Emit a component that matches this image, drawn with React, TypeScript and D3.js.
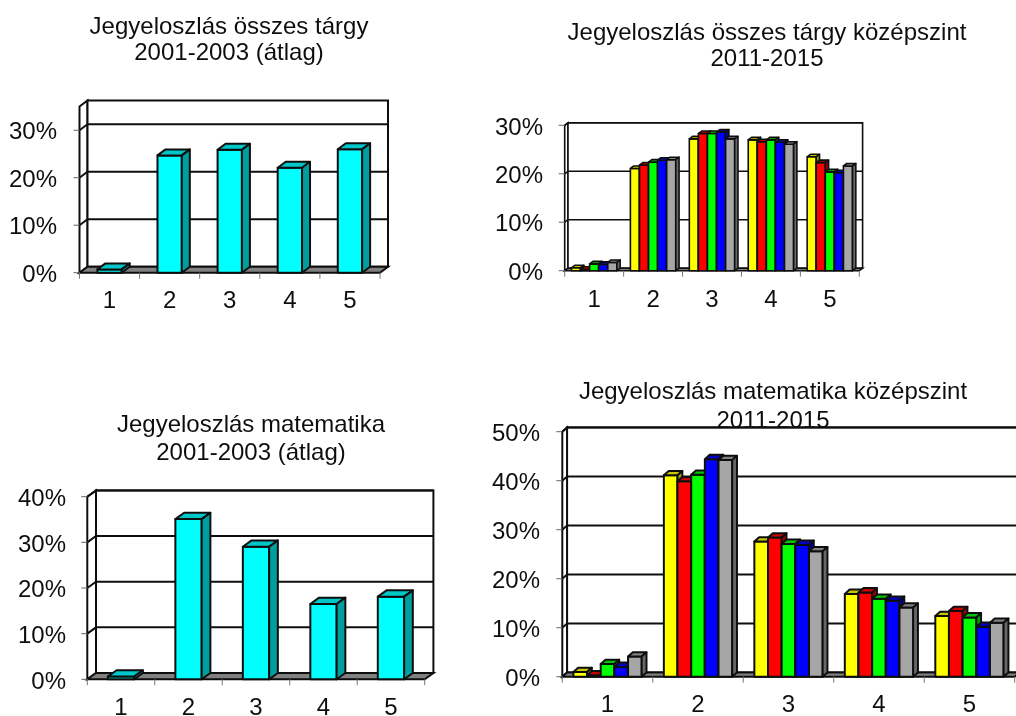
import React from "react";
import * as d3 from "d3";

const categories = ["1", "2", "3", "4", "5"];

const allSubjects2001 = [0.7, 24.7, 25.9, 22.1, 26.0];
const math2001 = [0.6, 35.1, 29.05, 16.5, 18.1];

const allSubjects2011 = [0.6, 21.1, 27.2, 27.0, 23.5];
const allSubjects2012 = [0.3, 21.8, 28.3, 26.6, 22.3];
const allSubjects2013 = [1.4, 22.4, 28.3, 27.0, 20.4];
const allSubjects2014 = [1.3, 22.8, 28.6, 26.5, 20.2];
const allSubjects2015 = [1.7, 22.9, 27.2, 26.1, 21.6];

const math2011 = [0.95, 41.1, 27.6, 16.9, 12.4];
const math2012 = [0.3, 39.9, 28.4, 17.2, 13.4];
const math2013 = [2.6, 41.2, 27.1, 15.9, 12.1];
const math2014 = [2.0, 44.4, 26.9, 15.5, 10.2];
const math2015 = [4.1, 44.2, 25.6, 14.1, 11.0];

const cyan = ["#00ffff"];
const fiveColours = ["#ffff00", "#ff0000", "#00ff00", "#0000ff", "#a6a6a6"];

const FONT = "'Liberation Sans', Arial, sans-serif";
const INK = "#111";

type ChartProps = {
  title: string[];
  titleX: number;
  titleY: number[];
  series: number[][];
  colours: string[];
  yMax: number;
  yTicks: number[];
  x0: number;
  x1: number;
  y0: number;
  yTop: number;
  dx: number;
  dy: number;
  fill: number;
  labelX: number;
  catLabelY: number;
  sw: number;
};

function shade(c: string, k: number) {
  const r = d3.rgb(c);
  return d3.rgb(r.r * k, r.g * k, r.b * k).formatHex();
}

function poly(points: [number, number][]) {
  return d3.line()(points)! + "Z";
}

function Chart(p: ChartProps) {
  const { x0, x1, y0, yTop, dx, dy, sw } = p;
  const y = d3.scaleLinear().domain([0, p.yMax]).range([y0, yTop]);
  const gap = 1 - p.fill;
  const band = d3
    .scaleBand<string>()
    .domain(categories)
    .range([x0, x1])
    .paddingInner(gap)
    .paddingOuter(gap / 2);
  const step = (x1 - x0) / categories.length;
  const inner = d3
    .scaleBand<number>()
    .domain(d3.range(p.series.length))
    .range([0, band.bandwidth()]);

  return (
    <g>
      <text fontFamily={FONT} fontSize={24} fill="#111" textAnchor="middle">
        {p.title.map((t, i) => (
          <tspan key={i} x={p.titleX} y={p.titleY[i]}>{t}</tspan>
        ))}
      </text>

      <path
        d={poly([[x0, y0], [x0 + dx, y0 - dy], [x0 + dx, yTop - dy], [x0, yTop]])}
        fill="#fff"
        stroke={INK}
        strokeWidth={sw}
      />
      <rect x={x0 + dx} y={yTop - dy} width={x1 - x0} height={y0 - yTop} fill="#fff" stroke={INK} strokeWidth={sw} />

      {p.yTicks.filter((v) => v > 0).map((v) => (
        <path
          key={v}
          d={d3.line()([[x0, y(v)], [x0 + dx, y(v) - dy], [x1 + dx, y(v) - dy]])!}
          fill="none"
          stroke={INK}
          strokeWidth={sw}
        />
      ))}

      <path
        d={poly([[x0, y0], [x1, y0], [x1 + dx, y0 - dy], [x0 + dx, y0 - dy]])}
        fill="#808080"
        stroke={INK}
        strokeWidth={sw}
      />

      {p.yTicks.map((v) => (
        <g key={v}>
          <line x1={x0 - 6} x2={x0} y1={y(v)} y2={y(v)} stroke="#666" strokeWidth={1} />
          <text x={p.labelX} y={y(v) + 9.2} textAnchor="end" fontFamily={FONT} fontSize={24} fill="#111">
            {v}%
          </text>
        </g>
      ))}

      {d3.range(categories.length + 1).map((i) => (
        <line key={i} x1={x0 + i * step} x2={x0 + i * step} y1={y0} y2={y0 + 6} stroke="#777" strokeWidth={1} />
      ))}

      {categories.map((c, ci) => (
        <g key={c}>
          {p.series.map((s, si) => {
            const l = band(c)! + inner(si)!;
            const r = l + inner.bandwidth();
            const t = y(s[ci]);
            const colour = p.colours[si];
            return (
              <g key={si} stroke={INK} strokeWidth={sw} strokeLinejoin="round">
                <rect x={l} y={t} width={r - l} height={y0 - t} fill={colour} />
                <path d={poly([[l, t], [l + dx, t - dy], [r + dx, t - dy], [r, t]])} fill={shade(colour, 0.78)} />
                <path d={poly([[r, t], [r + dx, t - dy], [r + dx, y0 - dy], [r, y0]])} fill={shade(colour, 0.62)} />
              </g>
            );
          })}
          <text
            x={x0 + (ci + 0.5) * step}
            y={p.catLabelY}
            textAnchor="middle"
            fontFamily={FONT}
            fontSize={24}
            fill="#111"
          >
            {c}
          </text>
        </g>
      ))}
    </g>
  );
}

export default function App() {
  return (
    <svg
      width={1016}
      height={716}
      viewBox="0 0 1016 716"
      style={{ position: "fixed", left: 0, top: 0, background: "#fff", display: "block" }}
    >
      <defs>
        <filter id="soft" x="0" y="0" width="100%" height="100%">
          <feGaussianBlur stdDeviation="0.35" />
        </filter>
      </defs>
      <g filter="url(#soft)">
        <rect x={0} y={0} width={1016} height={716} fill="#fff" />
        <Chart
          title={["Jegyeloszlás összes tárgy", "2001-2003 (átlag)"]}
          titleX={229}
          titleY={[34, 59.5]}
          series={[allSubjects2001]}
          colours={cyan}
          yMax={35}
          yTicks={[0, 10, 20, 30]}
          x0={79.5}
          x1={380}
          y0={272.7}
          yTop={106.5}
          dx={8}
          dy={6}
          fill={0.405}
          labelX={57}
          catLabelY={308}
          sw={2}
        />
        <Chart
          title={["Jegyeloszlás összes tárgy középszint", "2011-2015"]}
          titleX={767}
          titleY={[40, 65.5]}
          series={[allSubjects2011, allSubjects2012, allSubjects2013, allSubjects2014, allSubjects2015]}
          colours={fiveColours}
          yMax={30}
          yTicks={[0, 10, 20, 30]}
          x0={564.7}
          x1={859.3}
          y0={270.7}
          yTop={125.3}
          dx={3.3}
          dy={2.5}
          fill={0.77}
          labelX={543}
          catLabelY={307}
          sw={1.6}
        />
        <Chart
          title={["Jegyeloszlás matematika", "2001-2003 (átlag)"]}
          titleX={251}
          titleY={[431.7, 460]}
          series={[math2001]}
          colours={cyan}
          yMax={40}
          yTicks={[0, 10, 20, 30, 40]}
          x0={87.3}
          x1={424.7}
          y0={679.3}
          yTop={496.7}
          dx={8.7}
          dy={6.3}
          fill={0.39}
          labelX={66}
          catLabelY={715}
          sw={2}
        />
        <Chart
          title={["Jegyeloszlás matematika középszint", "2011-2015"]}
          titleX={773}
          titleY={[399, 428]}
          series={[math2011, math2012, math2013, math2014, math2015]}
          colours={fiveColours}
          yMax={50}
          yTicks={[0, 10, 20, 30, 40, 50]}
          x0={562.3}
          x1={1014.7}
          y0={676.7}
          yTop={431.7}
          dx={4.8}
          dy={4.3}
          fill={0.755}
          labelX={540}
          catLabelY={712}
          sw={2}
        />
      </g>
    </svg>
  );
}
